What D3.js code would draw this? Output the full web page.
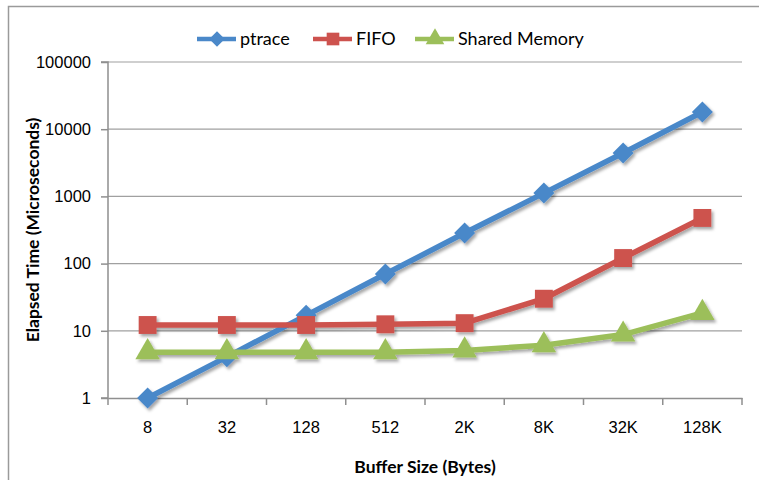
<!DOCTYPE html>
<html lang="en">
  <head>
    <meta charset="UTF-8" />
    <title>Elapsed time by buffer size</title>
    <style>
      body {
        margin: 0;
        background: #fff;
        font-family: "Lato", "Open Sans", sans-serif;
      }
      .tick text {
        font-size: 16.5px;
        fill: #000;
      }
      .axis-title {
        font-size: 17.5px;
        font-weight: bold;
      }
      .legend text {
        font-size: 18px;
      }
    </style>
  </head>
  <body>
    <div id="chart"></div>
    <script src="https://d3js.org/d3.v7.min.js"></script>
    <script>
      const sizes = ["8", "32", "128", "512", "2K", "8K", "32K", "128K"];
      const ptrace = [1, 4.1, 17, 70, 285, 1120, 4430, 18000];
      const fifo = [12.2, 12.2, 12.2, 12.5, 13, 30, 121, 478];
      const sharedMemory = [4.8, 4.8, 4.8, 4.8, 5.1, 6.1, 8.8, 18.5];
      const yTicks = [1, 10, 100, 1000, 10000, 100000];

      // diamond = square turned 45 degrees
      const series = [
        { name: "ptrace", values: ptrace, color: "#4a88c9", shape: d3.symbolSquare, rot: 45, size: 220, lsize: 120 },
        { name: "FIFO", values: fifo, color: "#cd524e", shape: d3.symbolSquare, rot: 0, size: 320, lsize: 160 },
        { name: "Shared Memory", values: sharedMemory, color: "#9cbf5a", shape: d3.symbolTriangle, rot: 0, size: 260, lsize: 150 }
      ];

      const width = 759, height = 480;
      const margin = { top: 62, right: 17, bottom: 82, left: 108 };

      const svg = d3.select("#chart").append("svg")
        .attr("width", width)
        .attr("height", height);

      const defs = svg.append("defs");
      const shadow = defs.append("filter").attr("id", "shadow")
        .attr("x", "-30%").attr("y", "-30%").attr("width", "160%").attr("height", "160%");
      shadow.append("feDropShadow")
        .attr("dx", 2).attr("dy", 2.5).attr("stdDeviation", 1.6)
        .attr("flood-color", "#000").attr("flood-opacity", 0.35);

      // chart border
      svg.append("rect")
        .attr("x", 8.5).attr("y", 6.5)
        .attr("width", width + 10).attr("height", height + 10)
        .attr("fill", "none").attr("stroke", "#9a9a9a").attr("stroke-width", 1.5);

      const x = d3.scaleBand()
        .domain(sizes)
        .range([margin.left, width - margin.right]);

      const y = d3.scaleLog()
        .domain([1, 100000])
        .range([height - margin.bottom, margin.top]);

      // gridlines
      svg.append("g")
        .selectAll("line")
        .data(yTicks.slice(1))
        .join("line")
        .attr("x1", margin.left).attr("x2", width - margin.right)
        .attr("y1", d => y(d)).attr("y2", d => y(d))
        .attr("stroke", "#a0a0a0").attr("stroke-width", 1.2);

      const yAxis = svg.append("g")
        .attr("transform", `translate(${margin.left},0)`)
        .call(d3.axisLeft(y).tickValues(yTicks).tickFormat(d3.format("d")).tickSize(7).tickPadding(10));

      const xAxis = svg.append("g")
        .attr("transform", `translate(0,${height - margin.bottom})`)
        .call(d3.axisBottom(x).tickSize(0).tickPadding(23));

      // x ticks between categories
      xAxis.append("g")
        .selectAll("line")
        .data(sizes.map(s => x(s)).concat([x.range()[1]]))
        .join("line")
        .attr("x1", d => d).attr("x2", d => d)
        .attr("y1", 0).attr("y2", 7)
        .attr("stroke", "#8f8f8f").attr("stroke-width", 1.5);

      [xAxis, yAxis].forEach(a => {
        a.select(".domain").attr("stroke", "#8f8f8f").attr("stroke-width", 1.5);
        a.selectAll(".tick line").attr("stroke", "#8f8f8f").attr("stroke-width", 1.5);
      });
      yAxis.select(".domain").attr("d", `M-7,${y(100000)}H0V${y(1)}H-7`);

      svg.append("text")
        .attr("class", "axis-title")
        .attr("x", (margin.left + width - margin.right) / 2)
        .attr("y", 473)
        .attr("text-anchor", "middle")
        .text("Buffer Size (Bytes)");

      svg.append("text")
        .attr("class", "axis-title")
        .attr("transform", `translate(39,${(y(1) + y(100000)) / 2}) rotate(-90)`)
        .attr("text-anchor", "middle")
        .text("Elapsed Time (Microseconds)");

      const cx = i => x(sizes[i]) + x.bandwidth() / 2;
      const line = d3.line().x((d, i) => cx(i)).y(d => y(d));

      const plots = svg.append("g").attr("filter", "url(#shadow)");
      series.forEach(s => {
        const g = plots.append("g");
        g.append("path")
          .datum(s.values)
          .attr("d", line)
          .attr("fill", "none")
          .attr("stroke", s.color)
          .attr("stroke-width", 5.5)
          .attr("stroke-linejoin", "round");
        g.selectAll("path.marker")
          .data(s.values)
          .join("path")
          .attr("class", "marker")
          .attr("transform", (d, i) => `translate(${cx(i)},${y(d)}) rotate(${s.rot})`)
          .attr("d", d3.symbol().type(s.shape).size(s.size))
          .attr("fill", s.color);
      });

      // legend
      const legendX = [197, 313, 415];
      const legend = svg.append("g").attr("class", "legend");
      series.forEach((s, i) => {
        const g = legend.append("g").attr("transform", `translate(${legendX[i]},39)`);
        g.append("line")
          .attr("x1", 0).attr("x2", 39)
          .attr("stroke", s.color).attr("stroke-width", 4.5);
        g.append("path")
          .attr("transform", `translate(20,0) rotate(${s.rot})`)
          .attr("d", d3.symbol().type(s.shape).size(s.lsize))
          .attr("fill", s.color);
        g.append("text")
          .attr("x", 43).attr("y", 6)
          .text(s.name);
      });
    </script>
  </body>
</html>
